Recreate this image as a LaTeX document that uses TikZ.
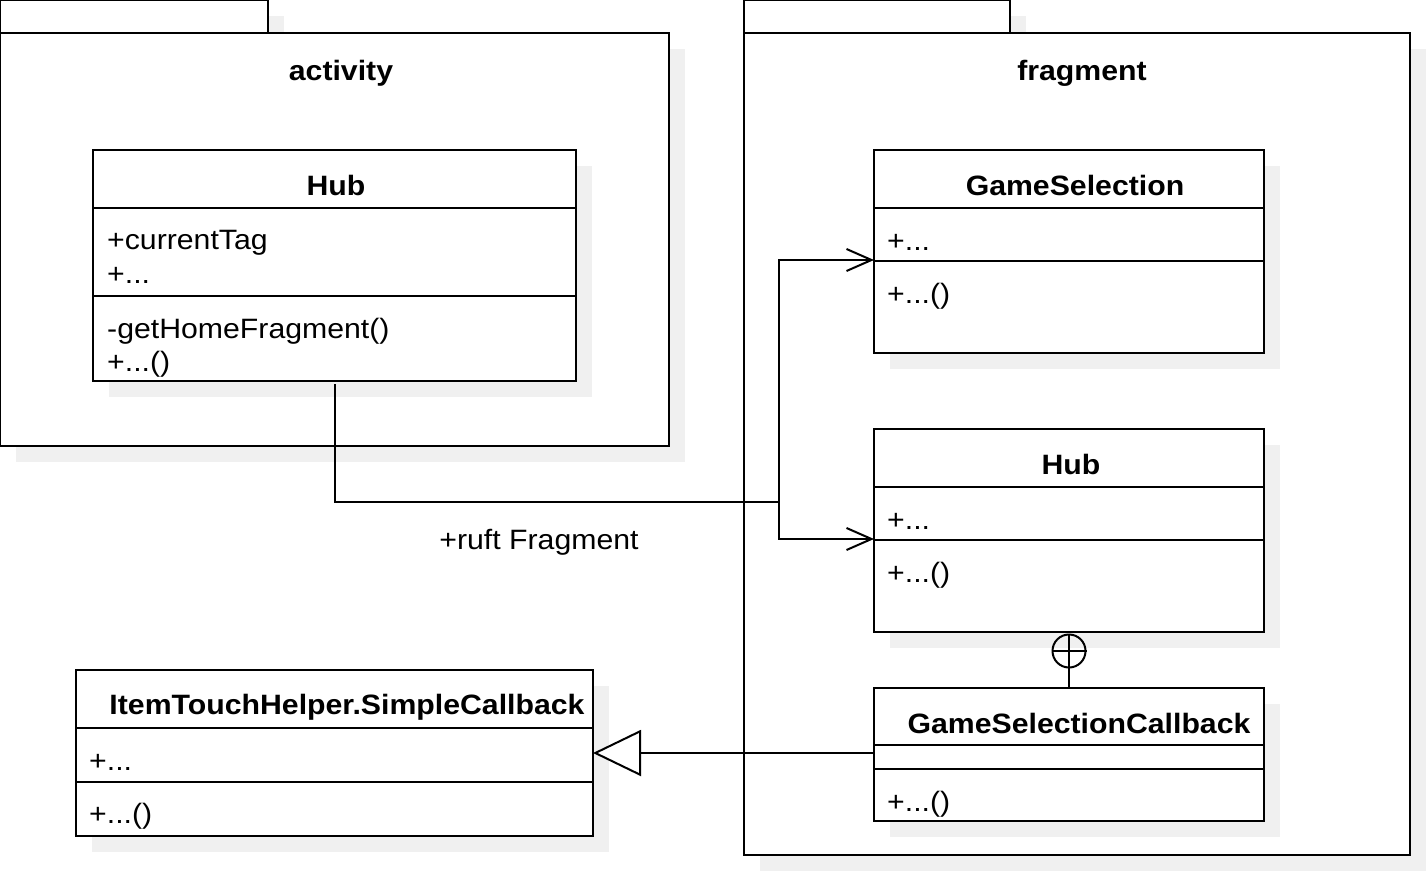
\documentclass[tikz,border=0pt]{standalone}
\usepackage{fontspec}
\setmainfont{Liberation Sans}[FakeStretch=1.08]
\usetikzlibrary{arrows.meta,shadows}
\definecolor{shade}{RGB}{240,240,240}
\tikzset{
  box/.style={draw=black, line width=2pt, fill=white, inner sep=0pt, outer sep=0pt,
    anchor=north west,
    drop shadow={shadow xshift=16pt, shadow yshift=-16pt, fill=shade, opacity=1}},
  ttl/.style={font=\fontsize{28}{33}\selectfont\bfseries, inner sep=0pt, anchor=base},
  txt/.style={font=\fontsize{28}{33}\selectfont, inner sep=0pt, anchor=base west},
  lbl/.style={font=\fontsize{28}{33}\selectfont, inner sep=0pt, anchor=base},
  ln/.style={line width=2pt},
  assoc/.style={line width=2pt, -{Straight Barb[length=25pt,width=22pt]}},
  gen/.style={line width=2pt, -{Triangle[open,length=48pt,width=46pt,fill=white]}},
}
\begin{document}
\begin{tikzpicture}[x=1pt,y=-1pt]
\useasboundingbox (0,0) rectangle (1427,872);
% packages
\node[box, minimum width=268pt, minimum height=33pt] (actTab) at (0,0) {};
\node[box, minimum width=669pt, minimum height=413pt] (actBody) at (0,33) {};
\node[ttl] (actName) at (341,81) {activity};
\node[box, minimum width=266pt, minimum height=33pt] (fragTab) at (744,0) {};
\node[box, minimum width=666pt, minimum height=822pt] (fragBody) at (744,33) {};
\node[ttl] (fragName) at (1082,81) {fragment};
% activity Hub
\node[box, minimum width=483pt, minimum height=231pt] (hubA) at (93,150) {};
\draw[ln] (93,208) -- (576,208);
\draw[ln] (93,296) -- (576,296);
\node[ttl] (hubAt) at (336,195) {Hub};
\node[txt] (hubA1) at (107,249) {+currentTag};
\node[txt] (hubA2) at (107,283) {+...};
\node[txt] (hubA3) at (107,338) {-getHomeFragment()};
\node[txt] (hubA4) at (107,371) {+...()};
% GameSelection
\node[box, minimum width=390pt, minimum height=203pt] (gs) at (874,150) {};
\draw[ln] (874,208) -- (1264,208);
\draw[ln] (874,261) -- (1264,261);
\node[ttl] (gst) at (1075,195) {GameSelection};
\node[txt] (gs1) at (887,250) {+...};
\node[txt] (gs2) at (887,303) {+...()};
% fragment Hub
\node[box, minimum width=390pt, minimum height=203pt] (hubF) at (874,429) {};
\draw[ln] (874,487) -- (1264,487);
\draw[ln] (874,540) -- (1264,540);
\node[ttl] (hubFt) at (1071,474) {Hub};
\node[txt] (hubF1) at (887,529) {+...};
\node[txt] (hubF2) at (887,582) {+...()};
% GameSelectionCallback
\node[box, minimum width=390pt, minimum height=133pt] (gsc) at (874,688) {};
\draw[ln] (874,745) -- (1264,745);
\draw[ln] (874,769) -- (1264,769);
\node[ttl] (gsct) at (1079,733) {GameSelectionCallback};
\node[txt] (gsc1) at (887,811) {+...()};
% ItemTouchHelper.SimpleCallback
\node[box, minimum width=517pt, minimum height=166pt] (ith) at (76,670) {};
\draw[ln] (76,728) -- (593,728);
\draw[ln] (76,782) -- (593,782);
\node[ttl] (itht) at (347,714) {ItemTouchHelper.SimpleCallback};
\node[txt] (ith1) at (89,770) {+...};
\node[txt] (ith2) at (89,823) {+...()};
% association
\coordinate (j) at (779,502);
\coordinate (gsIn) at (874,260);
\coordinate (hubIn) at (874,539);
\draw[ln, shorten <=3pt] (hubA.south) |- (j);
\draw[assoc] (j) |- (gsIn);
\draw[assoc] (j) |- (hubIn);
\node[lbl] (rl) at (539,549) {+ruft Fragment};
% generalization
\draw[gen] (gsc.west |- 0,753) -- (ith.east |- 0,753);
% nesting
\node[draw, line width=2pt, circle, minimum size=33pt, inner sep=0pt] (nest) at (1069,651) {};
\draw[ln] (nest.north) -- (nest.south);
\draw[ln] (nest.west) -- (nest.east);
\draw[ln] (nest.south) -- (gsc.north -| nest.south);
\end{tikzpicture}
\end{document}
